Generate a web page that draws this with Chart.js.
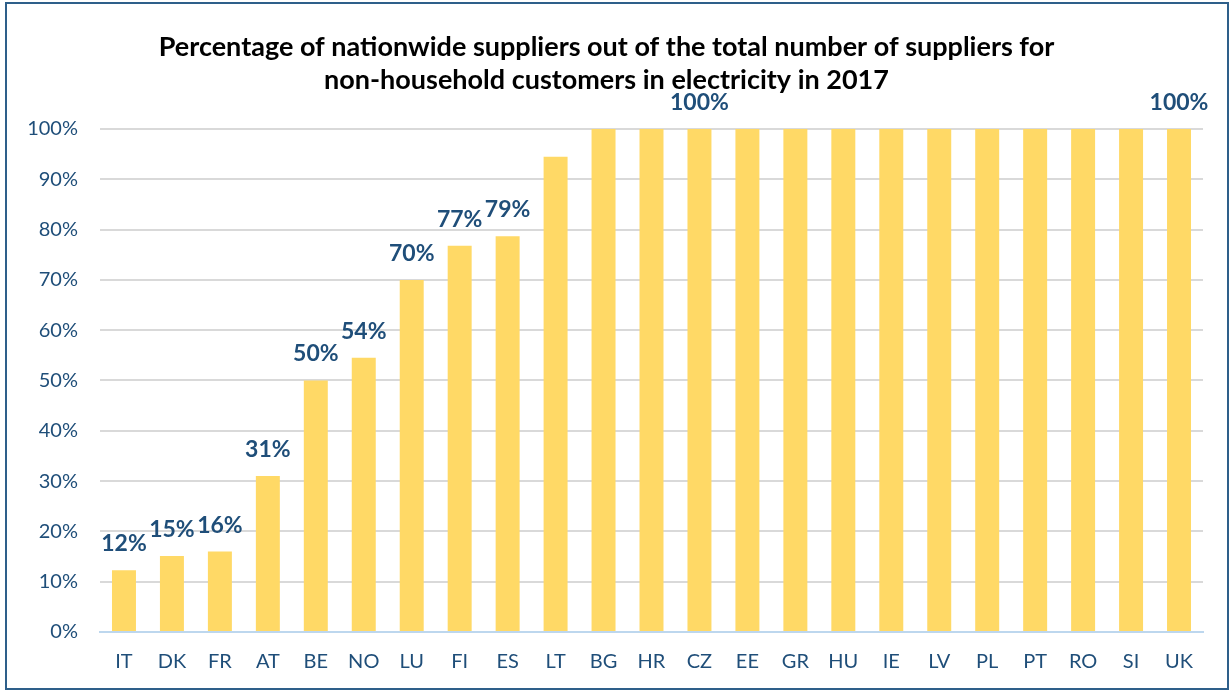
<!DOCTYPE html>
<html>
<head>
<meta charset="utf-8">
<script src="https://cdn.jsdelivr.net/npm/chart.js@4.4.1/dist/chart.umd.min.js"></script>
<style>
  html, body { margin: 0; padding: 0; background: #fff; }
  #wrap { position: relative; width: 1231px; height: 691px; }
  #frame { position: absolute; left: 5px; top: 2px; width: 1220px; height: 684px; border: 2px solid #2e5f8a; pointer-events: none; }
</style>
</head>
<body>
<div id="wrap">
  <canvas id="myChart" width="1231" height="691"></canvas>
  <div id="frame"></div>
</div>
<script>
var countries = ['IT', 'DK', 'FR', 'AT', 'BE', 'NO', 'LU', 'FI', 'ES', 'LT', 'BG', 'HR', 'CZ', 'EE', 'GR', 'HU', 'IE', 'LV', 'PL', 'PT', 'RO', 'SI', 'UK'];
var shares = [12.3, 15.1, 16, 31, 50, 54.5, 70, 76.8, 78.7, 94.5, 100, 100, 100, 100, 100, 100, 100, 100, 100, 100, 100, 100, 100];
// only some bars carry a label in the original
var shownLabels = ['12%', '15%', '16%', '31%', '50%', '54%', '70%', '77%', '79%', '', '', '', '100%', '', '', '', '', '', '', '', '', '', '100%'];

var FONT = 'Lato, "Open Sans", sans-serif';
var BLUE = '#1f4e79';

var barLabels = {
    id: 'barLabels',
    afterDatasetsDraw: function(chart) {
        var ctx = chart.ctx;
        var meta = chart.getDatasetMeta(0);
        ctx.save();
        ctx.font = 'bold 23px ' + FONT;
        ctx.fillStyle = BLUE;
        ctx.textAlign = 'center';
        ctx.textBaseline = 'alphabetic';
        meta.data.forEach(function(bar, i) {
            if (shownLabels[i]) {
                ctx.fillText(shownLabels[i], bar.x, bar.y - 19);
            }
        });
        ctx.restore();
    }
};

var config = {
    type: 'bar',
    data: {
        labels: countries,
        datasets: [{
            data: shares,
            backgroundColor: '#ffd966',
            borderWidth: 0,
            barPercentage: 0.5,
            categoryPercentage: 1
        }]
    },
    options: {
        responsive: false,
        animation: false,
        layout: { padding: { left: 10, right: 28, top: 14, bottom: -1 } },
        plugins: {
            legend: { display: false },
            tooltip: { enabled: false },
            title: {
                display: true,
                text: ['Percentage of nationwide suppliers out of the total number of suppliers for',
                       'non-household customers in electricity in 2017'],
                color: '#000',
                font: { family: FONT, size: 27, weight: 'bold', lineHeight: 1.222 },
                padding: { top: 17, bottom: 32 }
            }
        },
        scales: {
            x: {
                grid: { display: false, drawTicks: false },
                border: { color: '#bdd7ee', width: 2 },
                ticks: { color: BLUE, font: { family: FONT, size: 20 }, padding: 18 }
            },
            y: {
                min: 0,
                max: 100,
                afterFit: function(scale) { scale.width = 90; },
                grid: {
                    drawTicks: false,
                    lineWidth: 2,
                    color: function(c) { return c.tick && c.tick.value === 0 ? '#bdd7ee' : '#d9d9d9'; }
                },
                border: { display: false },
                ticks: {
                    stepSize: 10,
                    padding: 22,
                    color: BLUE,
                    font: { family: FONT, size: 20 },
                    callback: function(v) { return v + '%'; }
                }
            }
        }
    },
    plugins: [barLabels]
};

window.addEventListener('DOMContentLoaded', (event) => {
    var ctx = document.getElementById('myChart').getContext('2d');
    window.myBar = new Chart(ctx, config);
});
</script>
</body>
</html>
